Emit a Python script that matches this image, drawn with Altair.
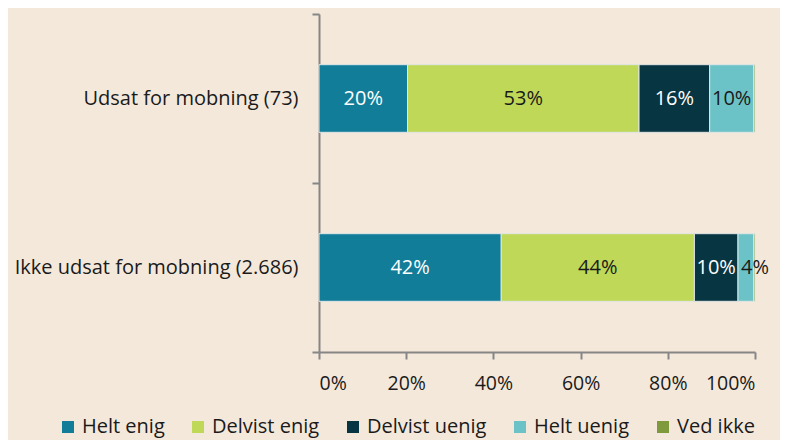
import altair as alt
import pandas as pd

groups = ["Udsat for mobning (73)", "Ikke udsat for mobning (2.686)"]
categories = ["Helt enig", "Delvist enig", "Delvist uenig", "Helt uenig", "Ved ikke"]
colors = ["#127d99", "#bfd857", "#083542", "#6cc3c7", "#7f9a3d"]
udsat = [20.3, 53.1, 16.2, 10.1, 0.3]
ikke_udsat = [41.8, 44.3, 10.0, 3.6, 0.3]
x_ticks = [0, 20, 40, 60, 80, 100]

rows = []
for g, vals in zip(groups, [udsat, ikke_udsat]):
    for i, (c, v) in enumerate(zip(categories, vals)):
        rows.append({"gruppe": g, "kategori": c, "value": v, "ordre": i})
df = pd.DataFrame(rows)

FONT = "Open Sans"
BG = "#f4e8db"

base = alt.Chart(df).transform_stack(
    stack="value", groupby=["gruppe"], as_=["x0", "x1"],
    sort=[alt.SortField("ordre", order="ascending")]
).transform_calculate(
    mid="(datum.x0 + datum.x1) / 2",
    label="format(datum.value, '.0f') + '%'"
)

y_enc = alt.Y("gruppe:N", sort=groups, title=None,
              scale=alt.Scale(paddingInner=0, paddingOuter=0),
              axis=alt.Axis(tickBand="extent", labelFontSize=20, labelFont=FONT,
                            labelColor="#1a1a1a", domainColor="#868686", domainWidth=2,
                            tickColor="#868686", tickWidth=2, tickSize=7,
                            labelPadding=14, labelLimit=400))

bars = base.mark_bar(stroke="#dfe6e6", strokeWidth=1, height={"band": 0.4}).encode(
    x=alt.X("x0:Q", title=None, scale=alt.Scale(domain=[0, 100], nice=False),
            axis=alt.Axis(values=x_ticks, labelExpr="datum.value + '%'",
                          labelFontSize=19.5, labelFont=FONT, labelColor="#1a1a1a",
                          domainColor="#868686", domainWidth=2, tickColor="#868686",
                          tickWidth=2, tickSize=7, labelPadding=15, grid=False)),
    x2="x1:Q",
    y=y_enc,
    color=alt.Color("kategori:N", sort=categories,
                    scale=alt.Scale(domain=categories, range=colors),
                    legend=alt.Legend(title=None, orient="none", direction="horizontal",
                                      legendX=-261, legendY=403,
                                      labelFontSize=20, labelFont=FONT, labelColor="#1a1a1a",
                                      symbolType="square", symbolSize=144,
                                      symbolStrokeWidth=0, labelOffset=4,
                                      columnPadding=23)),
    order=alt.Order("ordre:Q"),
)

text_color = alt.condition(
    "datum.kategori == 'Helt enig' || datum.kategori == 'Delvist uenig'",
    alt.value("#ffffff"), alt.value("#1a1a1a"))

labels_mid = base.transform_filter("datum.value >= 5").mark_text(
    font=FONT, fontSize=20, align="center", baseline="middle"
).encode(x="mid:Q", y=alt.Y("gruppe:N", sort=groups), text="label:N", color=text_color)

labels_small = base.transform_filter("datum.value >= 1 && datum.value < 5").mark_text(
    font=FONT, fontSize=20, align="left", baseline="middle", dx=3
).encode(x="x0:Q", y=alt.Y("gruppe:N", sort=groups), text="label:N", color=text_color)

chart = alt.layer(bars, labels_mid, labels_small).properties(
    width=436, height=338,
    autosize=alt.AutoSizeParams(type="none"),
    padding={"left": 311, "top": 6, "right": 25, "bottom": 88},
    background=BG,
).configure_view(stroke=None)

chart.save("out.html", embed_options={"renderer": "svg", "actions": False})
